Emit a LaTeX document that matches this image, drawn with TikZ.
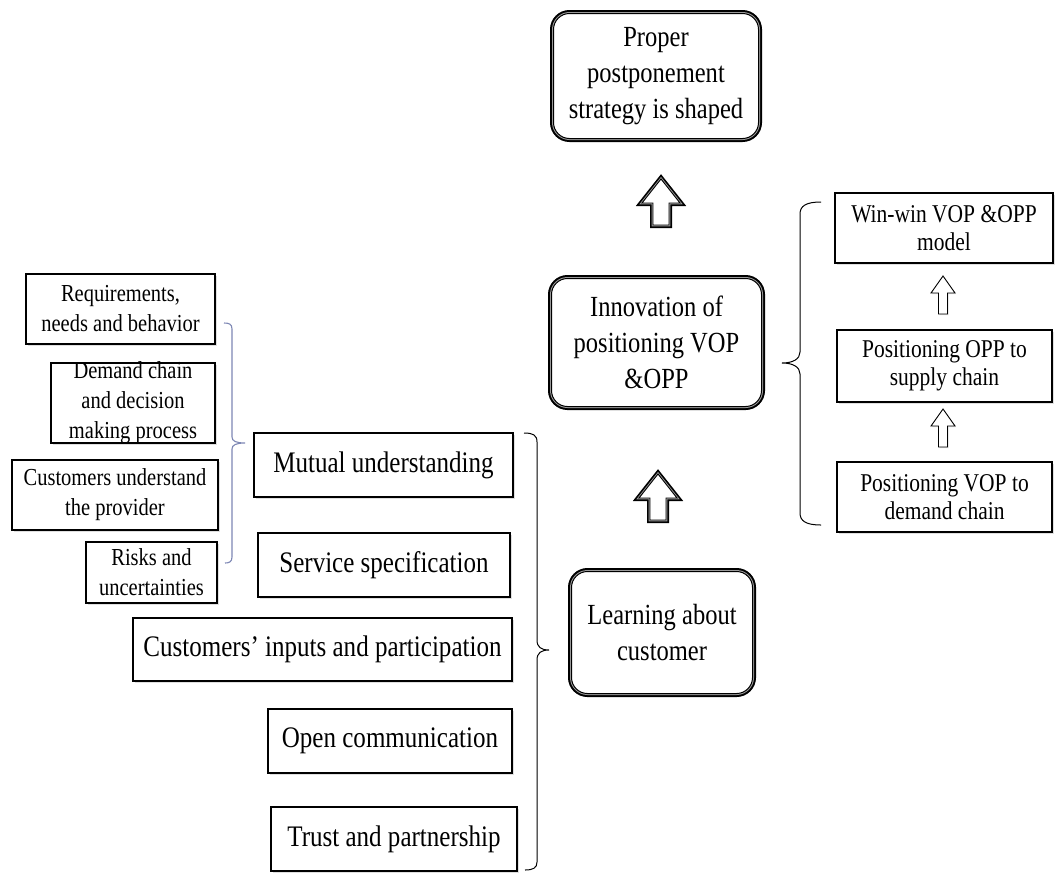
\documentclass[tikz,border=0pt]{standalone}
\usepackage{fontspec}
\setmainfont[FakeStretch=0.84]{Liberation Serif}
\usetikzlibrary{shadows}
\definecolor{bracegray}{RGB}{125,135,180}
\tikzset{
  % rounded stage boxes with heavy double-line frame
  stagebox/.style={rounded corners=16pt, fill=white, draw=black, line width=1pt,
    preaction={draw=black, line width=7pt},
    preaction={draw=black!40, line width=3pt},
    align=center, inner sep=0pt, font=\fontsize{29.2}{36}\selectfont},
  % plain rectangular boxes
  plainbox/.style={draw=black, line width=1.1pt, fill=white,
    drop shadow={opacity=0.25, shadow xshift=1.5pt, shadow yshift=-1.5pt},
    align=center, inner sep=0pt},
  bigtext/.style={font=\fontsize{29.8}{32}\selectfont},
  smalltext/.style={font=\fontsize{24.4}{30}\selectfont},
  sidetext/.style={font=\fontsize{25.6}{28.5}\selectfont},
  bigarrow/.style={fill=white, draw=black, line width=0.9pt, line join=miter,
    preaction={draw=black, line width=6pt},
    preaction={draw=black!40, line width=2.6pt}},
  smallarrow/.style={fill=white, draw=black, line width=0.9pt,
    drop shadow={opacity=0.25, shadow xshift=1.2pt, shadow yshift=-1.2pt}},
  bracket/.style={draw=black, line width=1pt},
  lightbracket/.style={draw=bracegray, line width=1.1pt},
  bigup/.pic={\path[bigarrow] (0,0) -- (19,24) -- (8,24) -- (8,46) -- (-8,46)
    -- (-8,24) -- (-19,24) -- cycle;},
  smallup/.pic={\path[smallarrow] (0,0) -- (12,17) -- (4.5,17) -- (4.5,38)
    -- (-4.5,38) -- (-4.5,17) -- (-12,17) -- cycle;}
}
\begin{document}
\begin{tikzpicture}[x=1pt, y=-1pt]
\fill[white] (0,0) rectangle (1056,873);
\useasboundingbox (0,0) rectangle (1056,873);

% central chain of stages
\node[stagebox, minimum width=205pt, minimum height=125pt] (goal) at (656,76)
  {Proper\\postponement\\strategy is shaped};
\node[stagebox, minimum width=210pt, minimum height=128pt] (innov) at (656.5,342.5)
  {Innovation of\\positioning VOP\\\&OPP};
\node[stagebox, minimum width=181pt, minimum height=122pt] (learn) at (662,632.5)
  {Learning about\\customer};

\pic at (661,179) {bigup};
\pic at (658,474) {bigup};

% right column
\node[plainbox, sidetext, minimum width=218pt, minimum height=70pt] (winwin) at (944,228)
  {Win-win VOP \&OPP\\model};
\node[plainbox, sidetext, minimum width=215pt, minimum height=72pt] (opp) at (944.5,366)
  {Positioning OPP to\\supply chain};
\node[plainbox, sidetext, minimum width=215pt, minimum height=70pt] (vop) at (944.5,497)
  {Positioning VOP to\\demand chain};

\pic at (943,276) {smallup};
\pic at (943,409) {smallup};

% middle column
\node[plainbox, bigtext, minimum width=259pt, minimum height=64pt] (mutual) at (383.5,465)
  {Mutual understanding};
\node[plainbox, bigtext, minimum width=252pt, minimum height=64pt] (service) at (384,565)
  {Service specification};
\node[plainbox, bigtext, minimum width=379pt, minimum height=63pt] (inputs) at (322.5,649.5)
  {Customers' inputs and participation};
\node[plainbox, bigtext, minimum width=244pt, minimum height=64pt] (open) at (390,741)
  {Open communication};
\node[plainbox, bigtext, minimum width=246pt, minimum height=64pt] (trust) at (394,839)
  {Trust and partnership};

% left column
\node[plainbox, smalltext, minimum width=189pt, minimum height=70pt] (req) at (120.5,309)
  {Requirements,\\needs and behavior};
% this box is smaller than its three lines of text, so the text is set on top of it
\node[plainbox, minimum width=164pt, minimum height=80pt] (demand) at (133,403) {};
\node[smalltext, align=center, inner sep=0pt] (demandtext) at (demand.center)
  {Demand chain\\and decision\\making process};
\node[plainbox, smalltext, minimum width=206pt, minimum height=70pt] (provider) at (115,495)
  {Customers understand\\the provider};
\node[plainbox, smalltext, minimum width=131pt, minimum height=61pt] (risks) at (151.5,572.5)
  {Risks and\\uncertainties};

% brackets
\draw[lightbracket] (224,323) .. controls (229,323) and (232,324) .. (232,329)
  -- (232,437) .. controls (232,441) and (236,443) .. (245,443)
  .. controls (236,443) and (232,445) .. (232,449)
  -- (232,557) .. controls (232,562) and (229,563) .. (225,563);

\draw[bracket] (524,433) .. controls (533,433) and (537,435) .. (537,442)
  -- (537,640) .. controls (537,647) and (541,650) .. (549,650)
  .. controls (541,650) and (537,653) .. (537,660)
  -- (537,862) .. controls (537,868) and (533,870) .. (525,870);

\draw[bracket] (821,202) .. controls (806,202) and (800,206) .. (800,214)
  -- (800,352) .. controls (800,359) and (793,363) .. (782,363)
  .. controls (793,363) and (800,367) .. (800,374)
  -- (800,513) .. controls (800,521) and (806,525) .. (821,525);
\end{tikzpicture}
\end{document}
